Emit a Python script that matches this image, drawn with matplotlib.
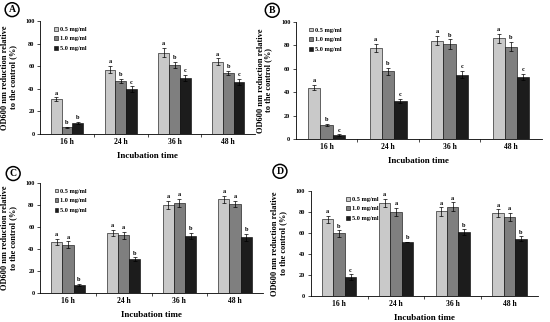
import numpy as np
import matplotlib
matplotlib.use('Agg')
import matplotlib.pyplot as plt
from matplotlib.patches import Patch

plt.rcParams['font.family'] = ['Liberation Serif', 'DejaVu Serif']
plt.rcParams['font.weight'] = 'bold'

times = ['16 h', '24 h', '36 h', '48 h']
doses = ['0.5 mg/ml', '1.0 mg/ml', '5.0 mg/ml']
colors = ['#c9c9c9', '#7f7f7f', '#1c1c1c']

# panel A
a_vals = [[31, 57, 72, 64], [6, 47, 61, 54], [9.5, 39.5, 49.5, 46]]
a_err = [[1.5, 3, 4, 3], [0.5, 2, 3, 2], [1, 2.5, 3, 3]]
a_let = [['a', 'a', 'a', 'a'], ['b', 'b', 'b', 'b'], ['b', 'c', 'c', 'c']]
# panel B
b_vals = [[44, 78, 84, 86], [12, 58, 81, 79], [3.5, 32.5, 55, 53]]
b_err = [[2, 3.5, 4, 4], [1, 3, 4, 4], [0.5, 1.5, 3, 2.5]]
b_let = [['a'] * 4, ['b'] * 4, ['c'] * 4]
# panel C
c_vals = [[46.5, 54.5, 80, 85], [44, 52.5, 82, 81], [7.5, 31, 52, 50.5]]
c_err = [[3, 3, 4, 3], [3, 3, 3.5, 3], [1, 1.5, 2.5, 3]]
c_let = [['a'] * 4, ['a'] * 4, ['b'] * 4]
# panel D
d_vals = [[73, 88.5, 80.5, 79], [59.5, 80, 85, 75], [18, 51.5, 61, 54.5]]
d_err = [[3.5, 4, 4, 3.5], [3, 4, 4, 4], [2.5, 0, 2.5, 2.5]]
d_let = [['a'] * 4, ['b', 'a', 'a', 'a'], ['c', 'b', 'b', 'b']]

panels = [
    ('A', [0.073, 0.584, 0.391, 0.351], (0.022, 0.970), a_vals, a_err, a_let, 0.04),
    ('B', [0.538, 0.568, 0.447, 0.364], (0.495, 0.968), b_vals, b_err, b_let, 0.03),
    ('C', [0.073, 0.090, 0.405, 0.342], (0.024, 0.461), c_vals, c_err, c_let, 0.04),
    ('D', [0.565, 0.081, 0.413, 0.326], (0.509, 0.468), d_vals, d_err, d_let, 0.13),
]

fig = plt.figure(figsize=(5.5, 3.22), dpi=100)
x = np.arange(len(times))
w = 0.2

for name, pos, lpos, vals, errs, lets, legx in panels:
    ax = fig.add_axes(pos)
    for i in range(3):
        xs = x + (i - 1) * w
        ax.bar(xs, vals[i], w, color=colors[i], edgecolor='black', linewidth=0.4,
               yerr=errs[i], error_kw=dict(elinewidth=0.5, capsize=1.2, capthick=0.5, ecolor='black'))
        for xx, v, e, t in zip(xs, vals[i], errs[i], lets[i]):
            ax.text(xx, v + e + 1.5, t, ha='center', va='bottom', fontsize=4.5, fontweight='bold')
    ax.set_xlim(-0.5, 3.5)
    ax.set_ylim(0, 100)
    ax.set_yticks([0, 20, 40, 60, 80, 100])
    ax.set_xticks(x)
    ax.set_xticklabels(times)
    ax.set_xticks([0.5, 1.5, 2.5], minor=True)
    ax.tick_params(axis='x', which='major', length=0, labelsize=5.5, pad=3)
    ax.tick_params(axis='x', which='minor', length=2, width=0.5)
    ax.tick_params(axis='y', length=2, width=0.5, labelsize=4.5, pad=2)
    for lab in ax.get_xticklabels() + ax.get_yticklabels():
        lab.set_fontweight('bold')
    ax.spines['top'].set_visible(False)
    ax.spines['right'].set_visible(False)
    ax.spines['left'].set_linewidth(0.6)
    ax.spines['bottom'].set_linewidth(0.6)
    ax.set_xlabel('Incubation time', fontsize=6.5, fontweight='bold', labelpad=4)
    ax.set_ylabel('OD600 nm reduction relative\nto the control (%)', fontsize=6,
                  fontweight='bold', labelpad=6, linespacing=1.0)
    handles = [Patch(facecolor=c, edgecolor='black', linewidth=0.4) for c in colors]
    ax.legend(handles, doses, loc='upper left', bbox_to_anchor=(legx, 1.0), frameon=False,
              handlelength=0.6, handleheight=0.6, handletextpad=0.3,
              labelspacing=0.7, prop=dict(weight='bold', size=4.5))
    fig.text(lpos[0], lpos[1], name, ha='center', va='center', fontsize=7, fontweight='bold',
             bbox=dict(boxstyle='circle,pad=0.25', facecolor='white', edgecolor='black', linewidth=1.1))

fig.savefig('out.png', dpi=100)
